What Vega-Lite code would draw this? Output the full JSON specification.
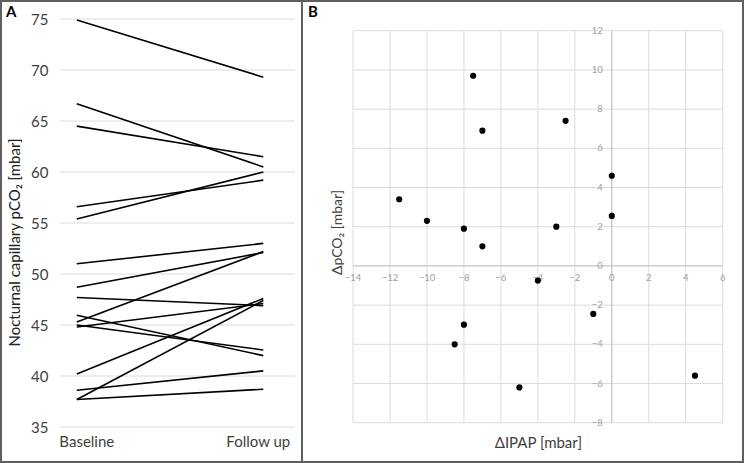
{
  "$schema": "https://vega.github.io/schema/vega-lite/v6.json",
  "padding": 0,
  "spacing": 0,
  "bounds": "flush",
  "config": {"font": "Lato", "view": {"stroke": "#5f5f5f", "strokeWidth": 2}},
  "datasets": {
    "lines": [
      {"patient": 1, "visit": 0, "time": "Baseline", "pco2": 74.9}, {"patient": 1, "visit": 1, "time": "Follow up", "pco2": 69.3},
      {"patient": 2, "visit": 0, "time": "Baseline", "pco2": 66.7}, {"patient": 2, "visit": 1, "time": "Follow up", "pco2": 60.5},
      {"patient": 3, "visit": 0, "time": "Baseline", "pco2": 64.5}, {"patient": 3, "visit": 1, "time": "Follow up", "pco2": 61.5},
      {"patient": 4, "visit": 0, "time": "Baseline", "pco2": 56.6}, {"patient": 4, "visit": 1, "time": "Follow up", "pco2": 59.2},
      {"patient": 5, "visit": 0, "time": "Baseline", "pco2": 55.4}, {"patient": 5, "visit": 1, "time": "Follow up", "pco2": 60.0},
      {"patient": 6, "visit": 0, "time": "Baseline", "pco2": 51.0}, {"patient": 6, "visit": 1, "time": "Follow up", "pco2": 53.0},
      {"patient": 7, "visit": 0, "time": "Baseline", "pco2": 48.7}, {"patient": 7, "visit": 1, "time": "Follow up", "pco2": 52.1},
      {"patient": 8, "visit": 0, "time": "Baseline", "pco2": 47.7}, {"patient": 8, "visit": 1, "time": "Follow up", "pco2": 46.9},
      {"patient": 9, "visit": 0, "time": "Baseline", "pco2": 45.95}, {"patient": 9, "visit": 1, "time": "Follow up", "pco2": 42.0},
      {"patient": 10, "visit": 0, "time": "Baseline", "pco2": 45.3}, {"patient": 10, "visit": 1, "time": "Follow up", "pco2": 52.2},
      {"patient": 11, "visit": 0, "time": "Baseline", "pco2": 45.0}, {"patient": 11, "visit": 1, "time": "Follow up", "pco2": 42.55},
      {"patient": 12, "visit": 0, "time": "Baseline", "pco2": 44.8}, {"patient": 12, "visit": 1, "time": "Follow up", "pco2": 47.1},
      {"patient": 13, "visit": 0, "time": "Baseline", "pco2": 40.2}, {"patient": 13, "visit": 1, "time": "Follow up", "pco2": 47.6},
      {"patient": 14, "visit": 0, "time": "Baseline", "pco2": 38.6}, {"patient": 14, "visit": 1, "time": "Follow up", "pco2": 40.5},
      {"patient": 15, "visit": 0, "time": "Baseline", "pco2": 37.7}, {"patient": 15, "visit": 1, "time": "Follow up", "pco2": 47.4},
      {"patient": 16, "visit": 0, "time": "Baseline", "pco2": 37.7}, {"patient": 16, "visit": 1, "time": "Follow up", "pco2": 38.7}
    ],
    "scatter": [
      {"dipap": -7.5, "dpco2": 9.7}, {"dipap": -7, "dpco2": 6.9}, {"dipap": -2.5, "dpco2": 7.4},
      {"dipap": 0, "dpco2": 4.6}, {"dipap": -11.5, "dpco2": 3.4}, {"dipap": -10, "dpco2": 2.3},
      {"dipap": -8, "dpco2": 1.9}, {"dipap": -3, "dpco2": 2.0}, {"dipap": 0, "dpco2": 2.55},
      {"dipap": -7, "dpco2": 1.0}, {"dipap": -4, "dpco2": -0.75}, {"dipap": -1, "dpco2": -2.45},
      {"dipap": -8, "dpco2": -3.0}, {"dipap": -8.5, "dpco2": -4.0}, {"dipap": -5, "dpco2": -6.2},
      {"dipap": 4.5, "dpco2": -5.6}
    ],
    "gridA": [{"v": 35}, {"v": 40}, {"v": 45}, {"v": 50}, {"v": 55}, {"v": 60}, {"v": 65}, {"v": 70}, {"v": 75}],
    "gx": [{"v": -14}, {"v": -12}, {"v": -10}, {"v": -8}, {"v": -6}, {"v": -4}, {"v": -2}, {"v": 0}, {"v": 2}, {"v": 4}, {"v": 6}],
    "gy": [{"v": -8}, {"v": -6}, {"v": -4}, {"v": -2}, {"v": 0}, {"v": 2}, {"v": 4}, {"v": 6}, {"v": 8}, {"v": 10}, {"v": 12}]
  },
  "hconcat": [
    {
      "width": 301,
      "height": 461,
      "title": {"text": "A", "anchor": "start", "dx": 5, "dy": 19, "offset": 0, "fontSize": 15, "fontWeight": "bold", "color": "#000000"},
      "resolve": {"axis": {"x": "independent", "y": "independent"}},
      "layer": [
        {
          "data": {"name": "gridA"},
          "mark": {"type": "rule", "color": "#dcdcdc", "strokeWidth": 1},
          "encoding": {
            "y": {"field": "v", "type": "quantitative", "axis": null},
            "x": {"datum": -0.09, "type": "quantitative", "axis": null},
            "x2": {"datum": 1.17}
          }
        },
        {
          "data": {"name": "lines"},
          "mark": {"type": "line", "color": "#000000", "strokeWidth": 1.6},
          "encoding": {
            "x": {"field": "visit", "type": "quantitative", "axis": null,
                  "scale": {"domain": [-0.09, 1.17], "range": [59, 294], "nice": false, "zero": false}},
            "y": {"field": "pco2", "type": "quantitative",
                  "scale": {"domain": [35, 75], "range": [426, 18], "nice": false, "zero": false},
                  "axis": {"values": [35, 40, 45, 50, 55, 60, 65, 70, 75], "grid": false, "ticks": false, "tickSize": 0,
                           "domain": false, "labelPadding": 0, "offset": -47, "labelFontSize": 15, "labelColor": "#404040",
                           "title": "Nocturnal capillary pCO₂ [mbar]", "titleX": -34, "titleY": 241, "titleAngle": -90,
                           "titleAlign": "center", "titleBaseline": "middle", "titleFontSize": 15, "titleFontWeight": "normal",
                           "titleColor": "#222222"}},
            "detail": {"field": "patient", "type": "nominal"}
          }
        },
        {
          "data": {"values": [{"visit": 0, "time": "Baseline"}]},
          "mark": {"type": "text", "dx": 10, "dy": 15, "fontSize": 15, "color": "#404040", "baseline": "middle"},
          "encoding": {
            "x": {"field": "visit", "type": "quantitative", "axis": null},
            "y": {"datum": 35, "type": "quantitative", "axis": null},
            "text": {"field": "time"}
          }
        },
        {
          "data": {"values": [{"visit": 1, "time": "Follow up"}]},
          "mark": {"type": "text", "dx": -5, "dy": 15, "fontSize": 15, "color": "#404040", "baseline": "middle"},
          "encoding": {
            "x": {"field": "visit", "type": "quantitative", "axis": null},
            "y": {"datum": 35, "type": "quantitative", "axis": null},
            "text": {"field": "time"}
          }
        }
      ]
    },
    {
      "width": 441,
      "height": 461,
      "title": {"text": "B", "anchor": "start", "dx": 6, "dy": 19, "offset": 0, "fontSize": 15, "fontWeight": "bold", "color": "#000000"},
      "resolve": {"axis": {"x": "independent", "y": "independent"}},
      "layer": [
        {
          "data": {"name": "gx"},
          "mark": {"type": "rule", "color": "#dcdcdc", "strokeWidth": 1},
          "encoding": {
            "x": {"field": "v", "type": "quantitative", "axis": null},
            "y": {"datum": -8, "type": "quantitative", "axis": null},
            "y2": {"datum": 12}
          }
        },
        {
          "data": {"name": "gy"},
          "mark": {"type": "rule", "color": "#dcdcdc", "strokeWidth": 1},
          "encoding": {
            "y": {"field": "v", "type": "quantitative", "axis": null},
            "x": {"datum": -14, "type": "quantitative", "axis": null},
            "x2": {"datum": 6}
          }
        },
        {
          "data": {"values": [{"v": 0}]},
          "mark": {"type": "rule", "color": "#c4c4c4", "strokeWidth": 1},
          "encoding": {
            "x": {"field": "v", "type": "quantitative", "axis": null},
            "y": {"datum": -8, "type": "quantitative", "axis": null},
            "y2": {"datum": 12}
          }
        },
        {
          "data": {"values": [{"v": 0}]},
          "mark": {"type": "rule", "color": "#c4c4c4", "strokeWidth": 1},
          "encoding": {
            "y": {"field": "v", "type": "quantitative", "axis": null},
            "x": {"datum": -14, "type": "quantitative", "axis": null},
            "x2": {"datum": 6}
          }
        },
        {
          "data": {"name": "gx"},
          "mark": {"type": "text", "dy": 12, "fontSize": 9.5, "color": "#a0a0a0", "baseline": "middle", "align": "center"},
          "encoding": {
            "x": {"field": "v", "type": "quantitative", "axis": null},
            "y": {"datum": 0, "type": "quantitative", "axis": null},
            "text": {"field": "v", "type": "quantitative"}
          }
        },
        {
          "data": {"name": "gy"},
          "mark": {"type": "text", "dx": -9, "fontSize": 9.5, "color": "#a0a0a0", "baseline": "middle", "align": "right"},
          "encoding": {
            "y": {"field": "v", "type": "quantitative", "axis": null},
            "x": {"datum": 0, "type": "quantitative", "axis": null},
            "text": {"field": "v", "type": "quantitative"}
          }
        },
        {
          "data": {"name": "scatter"},
          "mark": {"type": "point", "filled": true, "color": "#000000", "opacity": 1, "size": 38},
          "encoding": {
            "x": {"field": "dipap", "type": "quantitative",
                  "scale": {"domain": [-14, 6], "range": [51, 420.7], "nice": false, "zero": false},
                  "axis": {"labels": false, "ticks": false, "domain": false, "grid": false, "title": "ΔIPAP [mbar]",
                           "titleY": -20, "titleBaseline": "middle", "titleFontSize": 15, "titleFontWeight": "normal",
                           "titleColor": "#404040"}},
            "y": {"field": "dpco2", "type": "quantitative",
                  "scale": {"domain": [-8, 12], "range": [421.7, 29.7], "nice": false, "zero": false},
                  "axis": {"labels": false, "ticks": false, "domain": false, "grid": false, "title": "ΔpCO₂ [mbar]",
                           "titleX": 35, "titleY": 231, "titleAngle": -90, "titleAlign": "center", "titleBaseline": "middle",
                           "titleFontSize": 14, "titleFontWeight": "normal", "titleColor": "#404040"}}
          }
        }
      ]
    }
  ]
}
